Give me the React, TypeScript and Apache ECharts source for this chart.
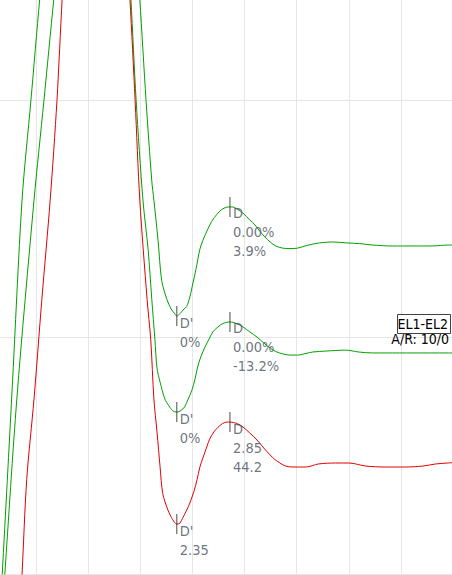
import React, { useEffect, useRef } from "react";
import * as echarts from "echarts";

// x in ms (1 grid division = 1 ms), y in mV (1 grid division = 1 mV)
const traceA: [number, number][] = [
  [0.33, -0.07], [0.35, 0.0], [0.54, 0.78], [0.73, 1.58], [0.9, 2.0], [1.07, 2.43], [1.15, 2.59],
  [2.03, 2.95], [2.94, 2.59], [2.99, 2.43], [3.11, 2.0], [3.22, 1.66], [3.26, 1.58], [3.34, 1.41],
  [3.41, 1.24], [3.51, 1.16], [3.59, 1.12], [3.66, 1.1], [3.7, 1.09], [3.76, 1.1], [3.84, 1.12],
  [3.89, 1.13], [3.95, 1.17], [4.01, 1.23], [4.07, 1.29], [4.14, 1.37], [4.2, 1.41], [4.28, 1.45],
  [4.37, 1.49], [4.47, 1.52], [4.56, 1.54], [4.66, 1.55], [4.72, 1.551], [4.79, 1.55], [4.87, 1.54],
  [4.97, 1.525], [5.1, 1.496], [5.2, 1.475], [5.29, 1.449], [5.39, 1.424], [5.49, 1.403], [5.6, 1.386],
  [5.73, 1.377], [5.87, 1.375], [6.02, 1.377], [6.19, 1.388], [6.44, 1.399], [6.69, 1.403], [6.96, 1.399],
  [7.21, 1.396], [7.46, 1.39], [7.84, 1.386], [8.23, 1.386], [8.61, 1.386], [8.9, 1.39], [9.03, 1.39],
];

const traceB: [number, number][] = [
  [0.38, -0.07], [0.4, 0.0], [0.63, 0.74], [0.96, 1.58], [1.15, 2.0], [1.34, 2.43], [1.42, 2.59],
  [2.13, 2.95], [2.78, 2.59], [2.82, 2.43], [2.92, 2.0], [3.05, 1.58], [3.15, 1.37], [3.22, 1.16],
  [3.28, 0.99], [3.32, 0.87], [3.38, 0.81], [3.47, 0.74], [3.55, 0.71], [3.62, 0.69], [3.7, 0.684],
  [3.78, 0.691], [3.85, 0.706], [3.91, 0.735], [3.99, 0.777], [4.05, 0.824], [4.1, 0.875], [4.16, 0.917],
  [4.24, 0.959], [4.32, 0.993], [4.39, 1.023], [4.49, 1.044], [4.58, 1.058], [4.72, 1.065], [4.78, 1.063],
  [4.87, 1.056], [4.97, 1.044], [5.1, 1.023], [5.24, 1.001], [5.37, 0.976], [5.49, 0.955], [5.6, 0.94],
  [5.73, 0.93], [5.87, 0.925], [6.02, 0.925], [6.18, 0.932], [6.31, 0.938], [6.56, 0.942], [6.94, 0.946],
  [7.19, 0.938], [7.46, 0.934], [7.71, 0.934], [8.23, 0.934], [8.9, 0.934], [9.03, 0.934],
];

const traceC: [number, number][] = [
  [0.71, -0.07], [0.73, 0.0], [0.82, 0.4], [0.96, 0.74], [1.11, 1.16], [1.27, 1.58], [1.4, 2.0],
  [1.5, 2.43], [1.55, 2.59], [2.13, 2.95], [2.75, 2.59], [2.8, 2.43], [2.9, 2.0], [2.99, 1.58],
  [3.13, 1.16], [3.2, 0.99], [3.26, 0.74], [3.32, 0.6], [3.38, 0.45], [3.43, 0.34], [3.53, 0.27],
  [3.62, 0.23], [3.7, 0.211], [3.76, 0.215], [3.82, 0.24], [3.89, 0.27], [3.95, 0.3], [4.03, 0.35],
  [4.09, 0.4], [4.14, 0.45], [4.2, 0.49], [4.28, 0.54], [4.33, 0.57], [4.41, 0.6], [4.49, 0.62],
  [4.58, 0.636], [4.66, 0.642], [4.72, 0.642], [4.79, 0.64], [4.87, 0.634], [4.97, 0.621], [5.1, 0.596],
  [5.24, 0.566], [5.37, 0.532], [5.49, 0.503], [5.58, 0.484], [5.68, 0.469], [5.79, 0.456], [5.93, 0.452],
  [6.18, 0.452], [6.42, 0.465], [6.75, 0.469], [7.0, 0.469], [7.33, 0.456], [7.71, 0.452], [8.09, 0.452],
  [8.42, 0.456], [8.67, 0.465], [8.9, 0.469], [9.03, 0.471],
];

const traceNames = ["EL1-EL2 (1)", "EL1-EL2 (2)", "EL1-EL2 (3)"];
const traceColors = ["#00a000", "#00a000", "#e00000"];

const dipPoints: [number, number][] = [[3.7, 1.09], [3.7, 0.684], [3.7, 0.211]];
const peakPoints: [number, number][] = [[4.72, 1.551], [4.72, 1.065], [4.72, 0.642]];
const dipLabels = ["D'\n0%", "D'\n0%", "D'\n2.35"];
const peakLabels = ["D\n0.00%\n3.9%", "D\n0.00%\n-13.2%", "D\n2.85\n44.2"];

const boxTitle = "EL1-EL2";
const boxSubtitle = "A/R: 10/0";

const FONT = "'DejaVu Sans Condensed', 'DejaVu Sans', sans-serif";

// The chart canvas is larger than the window: it starts 16px left of and
// 136px above the visible page, so the grid's first lines fall off-screen.
const OFF_X = 16;
const OFF_Y = 136;

export default function App() {
  const ref = useRef<HTMLDivElement>(null);
  useEffect(() => {
    if (!ref.current) return;
    const chart = echarts.init(ref.current, undefined, { renderer: "svg" });
    const traces = [traceA, traceB, traceC];
    const markerData = [
      ...dipPoints.map((p, i) => ({ name: dipLabels[i], value: p })),
      ...peakPoints.map((p, i) => ({ name: peakLabels[i], value: p })),
    ];
    chart.setOption({
      animation: false,
      backgroundColor: "#ffffff",
      grid: { left: 0, right: 0, top: 0, bottom: 1 },
      xAxis: {
        type: "value",
        min: 0,
        max: 9,
        interval: 1,
        axisLine: { show: false },
        axisTick: { show: false },
        axisLabel: { show: false },
        splitLine: { show: true, lineStyle: { color: "#e6e6e6", width: 1 } },
      },
      yAxis: {
        type: "value",
        min: 0,
        max: 3,
        interval: 1,
        axisLine: { show: false },
        axisTick: { show: false },
        axisLabel: { show: false },
        splitLine: { show: true, lineStyle: { color: "#e6e6e6", width: 1 } },
      },
      series: [
        ...traces.map((t, i) => ({
          name: traceNames[i],
          type: "line",
          data: t,
          smooth: 0.3,
          showSymbol: false,
          symbol: "none",
          lineStyle: { color: traceColors[i], width: 1 },
          z: 2 + i,
        })),
        {
          type: "scatter",
          data: markerData,
          symbol: "rect",
          symbolSize: [1, 20],
          itemStyle: { color: "#1e1e1e" },
          z: 10,
          clip: false,
          label: {
            show: true,
            formatter: "{b}",
            position: [3.5, 7],
            align: "left",
            verticalAlign: "top",
            color: "#465260",
            fontFamily: FONT,
            fontSize: 14.5,
            lineHeight: 19,
          },
        },
      ],
      graphic: [
        {
          type: "rect",
          shape: { x: 397.5 + OFF_X, y: 314.5 + OFF_Y, width: 53, height: 19 },
          style: { fill: "#ffffff", stroke: "#404040", lineWidth: 1 },
          z: 20,
        },
        {
          type: "text",
          x: 448 + OFF_X,
          y: 324 + OFF_Y,
          style: {
            text: boxTitle,
            fill: "#000000",
            font: `14px ${FONT}`,
            textAlign: "right",
            textVerticalAlign: "middle",
          },
          z: 21,
        },
        {
          type: "text",
          x: 449 + OFF_X,
          y: 339 + OFF_Y,
          style: {
            text: boxSubtitle,
            fill: "#000000",
            font: `14px ${FONT}`,
            textAlign: "right",
            textVerticalAlign: "middle",
          },
          z: 21,
        },
      ],
    });
    return () => chart.dispose();
  }, []);
  return (
    <div
      ref={ref}
      style={{
        position: "fixed",
        left: -OFF_X,
        top: -OFF_Y,
        width: 452 + OFF_X + 1,
        height: 575 + OFF_Y,
      }}
    />
  );
}
